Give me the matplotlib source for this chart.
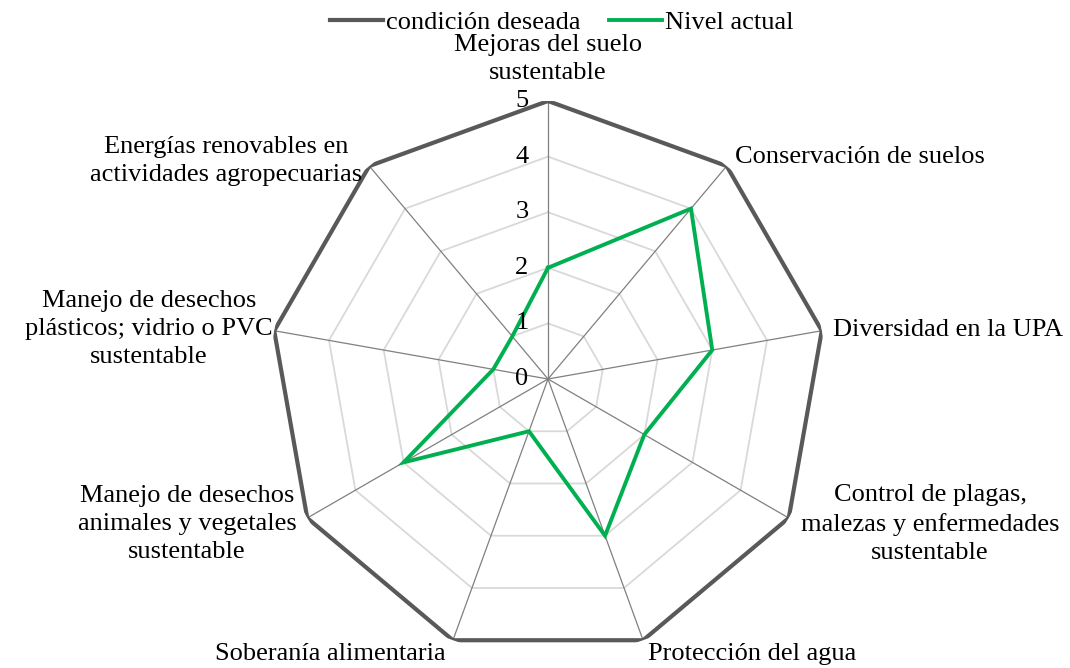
import numpy as np
import matplotlib
matplotlib.use("Agg")
import matplotlib.pyplot as plt

categories = [
    "Mejoras del suelo\nsustentable",
    "Conservación de suelos",
    "Diversidad en la UPA",
    "Control de plagas,\nmalezas y enfermedades\nsustentable",
    "Protección del agua",
    "Soberanía alimentaria",
    "Manejo de desechos\nanimales y vegetales\nsustentable",
    "Manejo de desechos\nplásticos; vidrio o PVC\nsustentable",
    "Energías renovables en\nactividades agropecuarias",
]
deseada = [5, 5, 5, 5, 5, 5, 5, 5, 5]
actual = [2, 4, 3, 2, 3, 1, 3, 1, 1]
tick_levels = [0, 1, 2, 3, 4, 5]
series_names = ["condición deseada", "Nivel actual"]

plt.rcParams["font.family"] = ["Liberation Serif", "DejaVu Serif"]
FS = 19
W, H = 1070, 668
fig = plt.figure(figsize=(W / 100, H / 100), dpi=100)

cx, cy, R = 548, 379, 278
ax = fig.add_axes([(cx - R) / W, (H - cy - R) / H, 2 * R / W, 2 * R / H], projection="polar")
ax.set_theta_offset(np.pi / 2)
ax.set_theta_direction(-1)
ax.set_ylim(0, 5)
ax.grid(False)
ax.set_xticks([])
ax.set_yticks([])
ax.spines["polar"].set_visible(False)
ax.patch.set_alpha(0)

n = len(categories)
theta = np.arange(n) * 2 * np.pi / n
theta_c = np.append(theta, theta[0])

# grid polygons
for lv in tick_levels[1:-1]:
    ax.plot(theta_c, [lv] * (n + 1), color="#D9D9D9", lw=1.3, zorder=1)
# spokes
for t in theta:
    ax.plot([t, t], [0, 5], color="#808080", lw=0.9, zorder=2)

l1, = ax.plot(theta_c, deseada + deseada[:1], color="#595959", lw=3.0, zorder=3,
              solid_joinstyle="miter")
l2, = ax.plot(theta_c, actual + actual[:1], color="#00B050", lw=2.8, zorder=4,
              solid_joinstyle="miter")

# radial tick labels
for lv in tick_levels:
    ax.annotate(str(lv), xy=(0, lv), xytext=(-26, 0), textcoords="offset pixels",
                ha="center", va="center", fontsize=FS, zorder=5)

# category labels (pixel positions of label anchors)
label_pos = [
    (548, 59, "center"),
    (735, 157, "left"),
    (833, 330, "left"),
    (930, 524, "center"),
    (648, 654, "left"),
    (446, 654, "right"),
    (187, 524, "center"),
    (149, 329, "center"),
    (226, 161, "center"),
]
for lab, (x, y, ha) in zip(categories, label_pos):
    fig.text(x / W, 1 - y / H, lab, ha=ha, va="center", fontsize=FS,
             multialignment="center", linespacing=1.36)

fig.legend([l1, l2], series_names, loc="upper center", bbox_to_anchor=(0.525, 1.02),
           ncol=2, frameon=False, fontsize=FS, handlelength=2.0, handletextpad=0.1,
           columnspacing=1.1)

fig.savefig("out.png", dpi=100)
